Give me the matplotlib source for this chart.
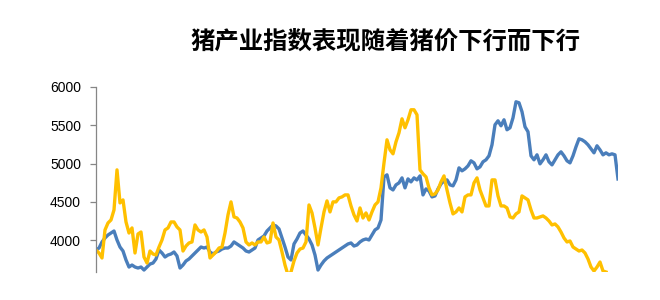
import matplotlib
matplotlib.use("Agg")
import matplotlib.pyplot as plt

title = "猪产业指数表现随着猪价下行而下行"

# Pig industry index (blue)
index_vals = [
    3873, 3899, 3978, 4030, 4069, 4095, 4121, 4004, 3912, 3860,
    3743, 3651, 3677, 3651, 3638, 3651, 3612, 3651, 3690, 3703,
    3756, 3873, 3834, 3782, 3808, 3821, 3847, 3795, 3638, 3677,
    3730, 3756, 3795, 3834, 3873, 3912, 3899, 3912, 3847, 3821,
    3847, 3860, 3886, 3899, 3899, 3925, 3978, 3952, 3925, 3899,
    3860, 3847, 3873, 3899, 4004, 4030, 4056, 4121, 4161, 4200,
    4187, 4148, 4030, 3912, 3782, 3743, 3952, 4017, 4095, 4121,
    4069, 4017, 3939, 3808, 3612, 3677, 3730, 3769, 3795, 3821,
    3847, 3873, 3899, 3925, 3952, 3965, 3925, 3939, 3978, 4004,
    4017, 4004, 4069, 4135, 4161, 4265, 4827, 4854, 4684, 4657,
    4723, 4749, 4814, 4684, 4801, 4762, 4814, 4788, 4840, 4592,
    4670, 4644, 4566, 4579, 4670, 4736, 4775, 4788, 4723, 4710,
    4788, 4945, 4906, 4932, 4971, 5037, 5010, 4932, 4958, 5024,
    5050, 5102, 5246, 5507, 5559, 5494, 5572, 5442, 5468, 5598,
    5807, 5794, 5677, 5481, 5416, 5102, 5050, 5115, 4997, 5050,
    5115, 5024, 4984, 5050, 5115, 5154, 5102, 5037, 5010, 5102,
    5220, 5324, 5311, 5285, 5246, 5194, 5141, 5233, 5180, 5115,
    5141, 5115, 5128, 5115, 4800,
]

# Pig price (yellow)
price_vals = [
    3873, 3834, 3769, 4135, 4226, 4265, 4396, 4919, 4488, 4527,
    4239, 4095, 4161, 3834, 4082, 4108, 3782, 3703, 3860, 3821,
    3808, 3912, 4004, 4135, 4161, 4239, 4239, 4174, 4135, 3860,
    3925, 3965, 3978, 4200, 4135, 4108, 4135, 4043, 3769, 3808,
    3847, 3899, 3912, 4095, 4331, 4501, 4305, 4291, 4239, 4161,
    3978, 3939, 3965, 3939, 3978, 3978, 4043, 3965, 3978, 4226,
    4043, 4004, 3847, 3677, 3547, 3586, 3730, 3834, 3886, 3899,
    3978, 4461, 4357, 4161, 3939, 4161, 4370, 4514, 4370, 4501,
    4501, 4553, 4566, 4592, 4592, 4448, 4331, 4252, 4422, 4291,
    4357, 4265, 4370, 4461, 4501, 4684, 5010, 5311, 5180, 5128,
    5285, 5403, 5585, 5468, 5572, 5703, 5703, 5637, 4919, 4867,
    4827, 4684, 4592, 4605, 4657, 4762, 4840, 4657, 4488, 4344,
    4370, 4422, 4370, 4566, 4592, 4592, 4749, 4814, 4657, 4553,
    4448, 4448, 4788, 4788, 4579, 4448, 4448, 4422, 4305, 4291,
    4344, 4370, 4579, 4553, 4527, 4396, 4291, 4291, 4305, 4318,
    4291, 4252, 4200, 4213, 4174, 4108, 4030, 3978, 3991, 3912,
    3886, 3860, 3873, 3834, 3756, 3651, 3599, 3651, 3716, 3599,
    3586,
]

y_ticks = [4000, 4500, 5000, 5500, 6000]

fig = plt.figure(figsize=(6.6, 3.0), dpi=100)
ax = fig.add_axes([96 / 660, 1 - 271.7 / 300, (618 - 96) / 660, (271.7 - 87) / 300])

ax.plot(range(len(index_vals)), index_vals, color="#4A7EBB", lw=2.4, solid_joinstyle="round")
ax.plot(range(len(price_vals)), price_vals, color="#FFC000", lw=2.4, solid_joinstyle="round")

ax.set_xlim(0, len(index_vals) - 1)
ax.set_ylim(3590, 6000)
ax.set_yticks(y_ticks)
ax.set_yticklabels([str(t) for t in y_ticks], family="Liberation Sans", fontsize=10)
ax.set_xticks([])

for s in ["top", "right", "bottom"]:
    ax.spines[s].set_visible(False)
ax.spines["left"].set_color("#868686")
ax.spines["left"].set_linewidth(0.9)
ax.tick_params(axis="y", direction="out", length=4.3, width=0.9, color="#868686", pad=6.5, labelcolor="#000000")

fig.text(0.584, 1 - 41 / 300, title, ha="center", va="center", fontsize=17.6,
         fontweight="bold", family=["Noto Sans CJK SC", "DejaVu Sans"])

fig.savefig("out.png", dpi=100)
